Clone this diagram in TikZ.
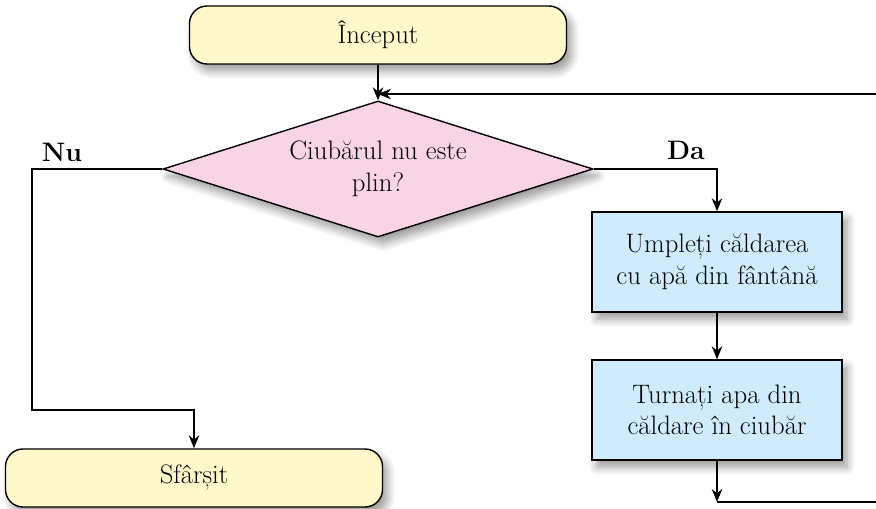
\documentclass[tikz,border=0pt]{standalone}
\usepackage{fontspec}
\usetikzlibrary{positioning,shapes.geometric,arrows.meta,shadows.blur}
\usepackage{xcolor}

\definecolor{termfill}{RGB}{255,248,202}
\definecolor{testfill}{RGB}{248,212,230}
\definecolor{actfill}{RGB}{208,236,252}

\tikzset{
  shade box/.style={blur shadow={shadow xshift=1mm,shadow yshift=-1.4mm,
      shadow blur steps=8,shadow blur radius=1.6mm,shadow opacity=40}},
  terminal/.style={draw,thick,rounded corners=3.5mm,fill=termfill,shade box,
      minimum width=75.4mm,minimum height=11.6mm},
  test/.style={draw,thick,diamond,aspect=3.16,fill=testfill,shade box,align=center,
      minimum width=86mm,minimum height=27.2mm,inner sep=0pt},
  action/.style={draw,thick,fill=actfill,shade box,align=center,
      minimum width=50mm,minimum height=20mm},
  flow/.style={thick,-{Stealth[length=2.6mm,width=2.1mm]}},
  branch/.style={font=\bfseries}
}

\begin{document}
\begin{tikzpicture}[x=0.2mm,y=-0.2mm]\fontsize{15.2}{18}\selectfont
  \useasboundingbox (0,0) rectangle (876,509);
  % boxes
  \node[terminal] (start) at (378,35) {Început};
  \node[test] (cond) at (378,169) {Ciubărul nu este\\plin?};
  \node[action] (fill) at (717,262) {Umpleți căldarea\\cu apă din fântână};
  \node[action] (pour) at (717,410) {Turnați apa din\\căldare în ciubăr};
  \node[terminal] (stop) at (194,478) {Sfârșit};
  % loop ends at the right border
  \coordinate (loopin) at (876,94);
  \coordinate (loopout) at (876,502);
  \coordinate (nucorner) at (32,410);
  % connectors
  \draw[flow] (start) -- (cond);
  \draw[flow] (loopin) -- (start.south |- loopin);
  \draw[flow] (cond.west) -| (nucorner) -| (stop.north);
  \draw[flow] (cond.east) -| (fill.north);
  \draw[flow] (fill) -- (pour);
  \draw[flow] (pour.south) -- (pour.south |- loopout);
  \draw[thick] (pour.south |- loopout) -- (loopout);
  % branch labels
  \node[branch] (nulbl) at (62,152) {Nu};
  \node[branch] (dalbl) at (686,150) {Da};
\end{tikzpicture}
\end{document}
